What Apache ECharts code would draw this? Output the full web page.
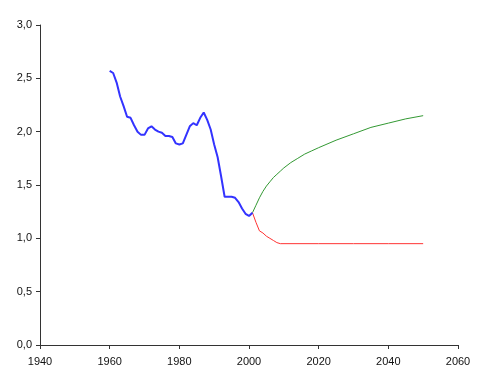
<!DOCTYPE html>
<html>
<head>
<meta charset="utf-8">
<script src="https://cdn.jsdelivr.net/npm/echarts@6/dist/echarts.min.js"></script>
<style>html,body{margin:0;padding:0;background:#fff;}#c{width:487px;height:388px;}</style>
</head>
<body>
<div id="c"></div>
<script>
var histYears = [1960,1961,1962,1963,1964,1965,1966,1967,1968,1969,1970,1971,1972,1973,1974,1975,1976,1977,1978,1979,1980,1981,1982,1983,1984,1985,1986,1987,1988,1989,1990,1991,1992,1993,1994,1995,1996,1997,1998,1999,2000,2001];
var histValues = [2.57,2.55,2.46,2.33,2.24,2.14,2.13,2.06,2.0,1.97,1.97,2.03,2.05,2.02,2.0,1.99,1.96,1.96,1.95,1.89,1.88,1.89,1.97,2.05,2.08,2.06,2.13,2.18,2.11,2.02,1.88,1.76,1.58,1.39,1.39,1.39,1.38,1.34,1.28,1.23,1.21,1.24];
var highYears = [2001,2002,2003,2004,2005,2006,2007,2008,2009,2010,2012,2014,2016,2018,2020,2025,2030,2035,2040,2045,2050];
var highValues = [1.24,1.31,1.38,1.44,1.49,1.53,1.57,1.60,1.63,1.66,1.71,1.75,1.79,1.82,1.85,1.92,1.98,2.04,2.08,2.12,2.15];
var lowYears = [2001,2002,2003,2004,2005,2006,2007,2008,2009,2020,2030,2040,2050];
var lowValues = [1.24,1.15,1.07,1.05,1.02,1.0,0.98,0.96,0.95,0.95,0.95,0.95,0.95];

function pairs(xs, ys){ return xs.map(function(x,i){ return [x, ys[i]]; }); }

var chart = echarts.init(document.getElementById('c'), null, {renderer:'canvas'});
var axisFont = {fontFamily:'Liberation Sans, Arial, sans-serif', fontSize:11, color:'#111'};
chart.setOption({
  animation:false,
  backgroundColor:'#fff',
  grid:{left:40, right:29, top:25, bottom:43, containLabel:false},
  xAxis:{
    type:'value', min:1940, max:2060, interval:20,
    axisLine:{show:true, lineStyle:{color:'#333', width:1}},
    axisTick:{show:true, inside:false, length:4, lineStyle:{color:'#333'}},
    axisLabel:Object.assign({margin:11, formatter:function(v){return String(v);}}, axisFont),
    splitLine:{show:false}
  },
  yAxis:{
    type:'value', min:0, max:3, interval:0.5,
    axisLine:{show:true, lineStyle:{color:'#333', width:1}},
    axisTick:{show:true, inside:false, length:4, lineStyle:{color:'#333'}},
    axisLabel:Object.assign({margin:8, formatter:function(v){return v.toFixed(1).replace('.',',');}}, axisFont),
    splitLine:{show:false}
  },
  series:[
    {type:'line', data:pairs(highYears, highValues), symbol:'none', lineStyle:{color:'#339933', width:1}, z:2},
    {type:'line', data:pairs(lowYears, lowValues), symbol:'none', lineStyle:{color:'#ff3333', width:1}, z:2},
    {type:'line', data:pairs(histYears, histValues), symbol:'none', lineStyle:{color:'#3333ff', width:2}, z:3}
  ]
});
</script>
</body>
</html>
